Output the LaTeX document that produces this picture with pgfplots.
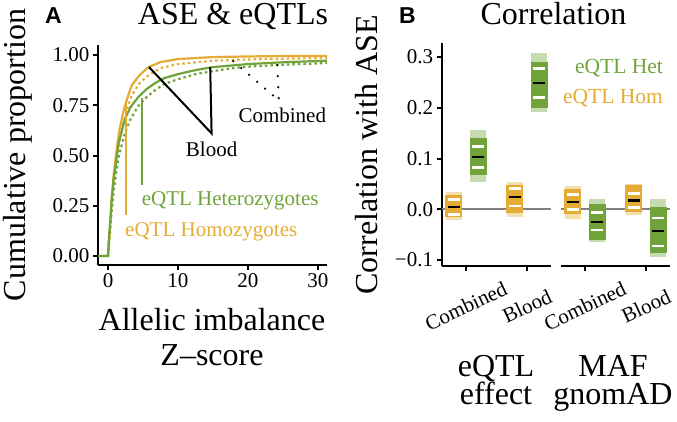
\documentclass[border=0pt]{standalone}
\usepackage{pgfplots}
\pgfplotsset{compat=1.18}
\usepackage{fontspec}
\setmainfont{Liberation Serif}
\newfontfamily\panelfont{Liberation Sans}
\definecolor{hom}{RGB}{228,172,52}
\definecolor{het}{RGB}{112,164,58}
\begin{document}
\begin{tikzpicture}
\useasboundingbox (0pt,0pt) rectangle (677pt,421pt);
\pgfplotsset{
  mystyle/.style={scale only axis, clip=false,
    axis line style={line width=2pt, black},
    tick style={line width=2pt, black},
    tick align=outside, major tick length=5pt,
    ticklabel style={font=\fontsize{21}{24}\selectfont},
  },
  box/.style={line width=16pt, opacity=0.4},
  core/.style={line width=17pt},
  wl/.style={line width=2.5pt, white},
  bl/.style={line width=2.5pt, black},
}
% ---------------- Panel A ----------------
\begin{axis}[mystyle, at={(98pt,156pt)}, anchor=south west,
  width=229pt, height=220pt,
  xmin=-1.43, xmax=31.29, ymin=-0.045, ymax=1.05,
  axis lines*=left,
  xtick={0,10,20,30}, xticklabels={0,10,20,30},
  ytick={0,0.25,0.5,0.75,1}, yticklabels={0.00,0.25,0.50,0.75,1.00}]
\addplot[hom, line width=2.2pt] coordinates {(-1.43,0) (0,0) (0.2,0.1) (0.5,0.27) (0.8,0.40) (1.2,0.52) (1.6,0.62) (2.2,0.72) (2.8,0.79) (3.4,0.85) (4.5,0.90) (5.8,0.94) (7.5,0.965) (10,0.98) (15,0.99) (20,0.993) (25,0.995) (31.29,0.996)};
\addplot[hom, line width=2.2pt, dash pattern=on 2.5pt off 3pt] coordinates {(0,0) (0.2,0.08) (0.5,0.22) (0.8,0.34) (1.2,0.46) (1.6,0.56) (2.2,0.66) (2.8,0.74) (3.4,0.80) (4.5,0.86) (5.8,0.90) (7.5,0.935) (10,0.955) (15,0.972) (20,0.978) (25,0.982) (31.29,0.985)};
\addplot[het, line width=2.2pt] coordinates {(-1.43,0) (0,0) (0.15,0.1) (0.3,0.16) (0.5,0.27) (0.8,0.38) (1.2,0.48) (1.5,0.56) (2.4,0.68) (3.2,0.74) (4.3,0.79) (5.5,0.83) (6.7,0.86) (8,0.885) (10,0.905) (12.5,0.925) (15,0.94) (20,0.955) (25,0.964) (31.29,0.972)};
\addplot[het, line width=2.2pt, dash pattern=on 2.5pt off 3pt] coordinates {(0,0) (0.15,0.08) (0.3,0.14) (0.5,0.22) (0.8,0.32) (1.2,0.42) (1.5,0.49) (2.4,0.61) (3.2,0.68) (4.3,0.745) (5.5,0.79) (6.7,0.825) (8,0.855) (10,0.88) (12.5,0.905) (15,0.92) (17.9,0.935) (20,0.942) (25,0.952) (31.29,0.96)};
% pointer lines
\addplot[hom, line width=2pt] coordinates {(2.57,0.205) (2.57,0.77)};
\addplot[het, line width=2pt] coordinates {(4.8,0.355) (4.8,0.785)};
\addplot[black, line width=2pt] coordinates {(5.86,0.94) (14.8,0.61) (14.6,0.94)};
\addplot[black, line width=2.5pt, line cap=round, dash pattern=on 0pt off 10.5pt] coordinates {(17.9,0.97) (24.4,0.774)};
\addplot[black, line width=2.5pt, line cap=round, dash pattern=on 0pt off 11pt] coordinates {(24.2,0.95) (24.4,0.774)};
\node[font=\fontsize{21}{24}\selectfont] at (axis cs:14.8,0.53) {Blood};
\node[font=\fontsize{21}{24}\selectfont] at (axis cs:24.9,0.70) {Combined};
\node[font=\fontsize{21}{24}\selectfont, het, anchor=west, inner sep=0pt] at (axis cs:4.8,0.274) {eQTL Heterozygotes};
\node[font=\fontsize{21}{24}\selectfont, hom, anchor=west, inner sep=0pt] at (axis cs:2.43,0.121) {eQTL Homozygotes};
\end{axis}
% ---------------- Panel B, facet 1 ----------------
\begin{axis}[mystyle, at={(441.6pt,154.9pt)}, anchor=south west,
  width=109.8pt, height=223.3pt,
  xmin=0.6, xmax=2.4, ymin=-0.112, ymax=0.328,
  axis lines*=left,
  xtick={1,2}, xticklabels={Combined,Blood},
  xticklabel style={yshift=-35pt, rotate=25, anchor=center},
  ytick={-0.1,0,0.1,0.2,0.3}, yticklabels={−0.1,0.0,0.1,0.2,0.3}]
\addplot[gray, line width=2pt] coordinates {(0.6,0) (2.4,0)};
% Combined, Hom
\addplot[hom, box] coordinates {(0.8,-0.022) (0.8,0.034)};
\addplot[hom, core] coordinates {(0.8,-0.015) (0.8,0.028)};
\addplot[wl] coordinates {(0.7,0.019) (0.9,0.019)};
\addplot[wl] coordinates {(0.7,-0.0105) (0.9,-0.0105)};
\addplot[bl] coordinates {(0.7,0.0046) (0.9,0.0046)};
% Combined, Het
\addplot[het, box] coordinates {(1.2,0.054) (1.2,0.156)};
\addplot[het, core] coordinates {(1.2,0.067) (1.2,0.14)};
\addplot[wl] coordinates {(1.1,0.124) (1.3,0.124)};
\addplot[wl] coordinates {(1.1,0.082) (1.3,0.082)};
\addplot[bl] coordinates {(1.1,0.103) (1.3,0.103)};
% Blood, Hom
\addplot[hom, box] coordinates {(1.8,-0.015) (1.8,0.054)};
\addplot[hom, core] coordinates {(1.8,-0.008) (1.8,0.048)};
\addplot[wl] coordinates {(1.7,0.041) (1.9,0.041)};
\addplot[wl] coordinates {(1.7,0.0065) (1.9,0.0065)};
\addplot[bl] coordinates {(1.7,0.024) (1.9,0.024)};
% Blood, Het
\addplot[het, box] coordinates {(2.2,0.192) (2.2,0.307)};
\addplot[het, core] coordinates {(2.2,0.20) (2.2,0.29)};
\addplot[wl] coordinates {(2.1,0.277) (2.3,0.277)};
\addplot[wl] coordinates {(2.1,0.22) (2.3,0.22)};
\addplot[bl] coordinates {(2.1,0.249) (2.3,0.249)};
\end{axis}
% ---------------- Panel B, facet 2 ----------------
\begin{axis}[mystyle, at={(560.6pt,154.9pt)}, anchor=south west,
  width=109.8pt, height=223.3pt,
  xmin=0.6, xmax=2.4, ymin=-0.112, ymax=0.328,
  axis x line*=bottom, axis y line=none,
  xtick={1,2}, xticklabels={Combined,Blood},
  xticklabel style={yshift=-35pt, rotate=25, anchor=center}]
\addplot[gray, line width=2pt] coordinates {(0.6,0) (2.4,0)};
% Combined, Hom
\addplot[hom, box] coordinates {(0.8,-0.02) (0.8,0.045)};
\addplot[hom, core] coordinates {(0.8,-0.0085) (0.8,0.039)};
\addplot[wl] coordinates {(0.7,0.029) (0.9,0.029)};
\addplot[wl] coordinates {(0.7,-0.0006) (0.9,-0.0006)};
\addplot[bl] coordinates {(0.7,0.0144) (0.9,0.0144)};
% Combined, Het
\addplot[het, box] coordinates {(1.2,-0.065) (1.2,0.02)};
\addplot[het, core] coordinates {(1.2,-0.061) (1.2,0.011)};
\addplot[wl] coordinates {(1.1,-0.0066) (1.3,-0.0066)};
\addplot[wl] coordinates {(1.1,-0.041) (1.3,-0.041)};
\addplot[bl] coordinates {(1.1,-0.025) (1.3,-0.025)};
% Blood, Hom
\addplot[hom, box] coordinates {(1.8,-0.012) (1.8,0.05)};
\addplot[hom, core] coordinates {(1.8,-0.005) (1.8,0.047)};
\addplot[wl] coordinates {(1.7,0.031) (1.9,0.031)};
\addplot[wl] coordinates {(1.7,0.0033) (1.9,0.0033)};
\addplot[bl] coordinates {(1.7,0.0177) (1.9,0.0177)};
% Blood, Het
\addplot[het, box] coordinates {(2.2,-0.095) (2.2,0.02)};
\addplot[het, core] coordinates {(2.2,-0.087) (2.2,0.0045)};
\addplot[wl] coordinates {(2.1,-0.017) (2.3,-0.017)};
\addplot[wl] coordinates {(2.1,-0.072) (2.3,-0.072)};
\addplot[bl] coordinates {(2.1,-0.043) (2.3,-0.043)};
\node[font=\fontsize{21.5}{24}\selectfont, het, anchor=east, inner sep=0pt] at (axis cs:2.28,0.278) {eQTL Het};
\node[font=\fontsize{21.5}{24}\selectfont, hom, anchor=east, inner sep=0pt] at (axis cs:2.28,0.219) {eQTL Hom};
\end{axis}
% ---------------- Titles and labels ----------------
\node[anchor=base, font=\fontsize{32}{36}\selectfont] at (233pt,396pt) {ASE \& eQTLs};
\node[anchor=base, font=\fontsize{32}{36}\selectfont] at (553.5pt,396pt) {Correlation};
\node[anchor=base, font=\panelfont\bfseries\fontsize{23}{26}\selectfont] at (53.5pt,397.7pt) {A};
\node[anchor=base, font=\panelfont\bfseries\fontsize{23}{26}\selectfont] at (407.5pt,397.7pt) {B};
\node[anchor=base, rotate=90, font=\fontsize{32}{36}\selectfont] at (25pt,266pt) {Cumulative proportion};
\node[anchor=base, rotate=90, font=\fontsize{32}{36}\selectfont] at (377pt,266pt) {Correlation with ASE};
\node[anchor=base, font=\fontsize{32}{36}\selectfont] at (212pt,91pt) {Allelic imbalance};
\node[anchor=base, font=\fontsize{32}{36}\selectfont] at (212pt,56pt) {Z–score};
\node[anchor=base, font=\fontsize{32}{36}\selectfont] at (496pt,45pt) {eQTL};
\node[anchor=base, font=\fontsize{32}{36}\selectfont] at (496pt,17pt) {effect};
\node[anchor=base, font=\fontsize{32}{36}\selectfont] at (613pt,45pt) {MAF};
\node[anchor=base, font=\fontsize{32}{36}\selectfont] at (613pt,17pt) {gnomAD};
\end{tikzpicture}
\end{document}
